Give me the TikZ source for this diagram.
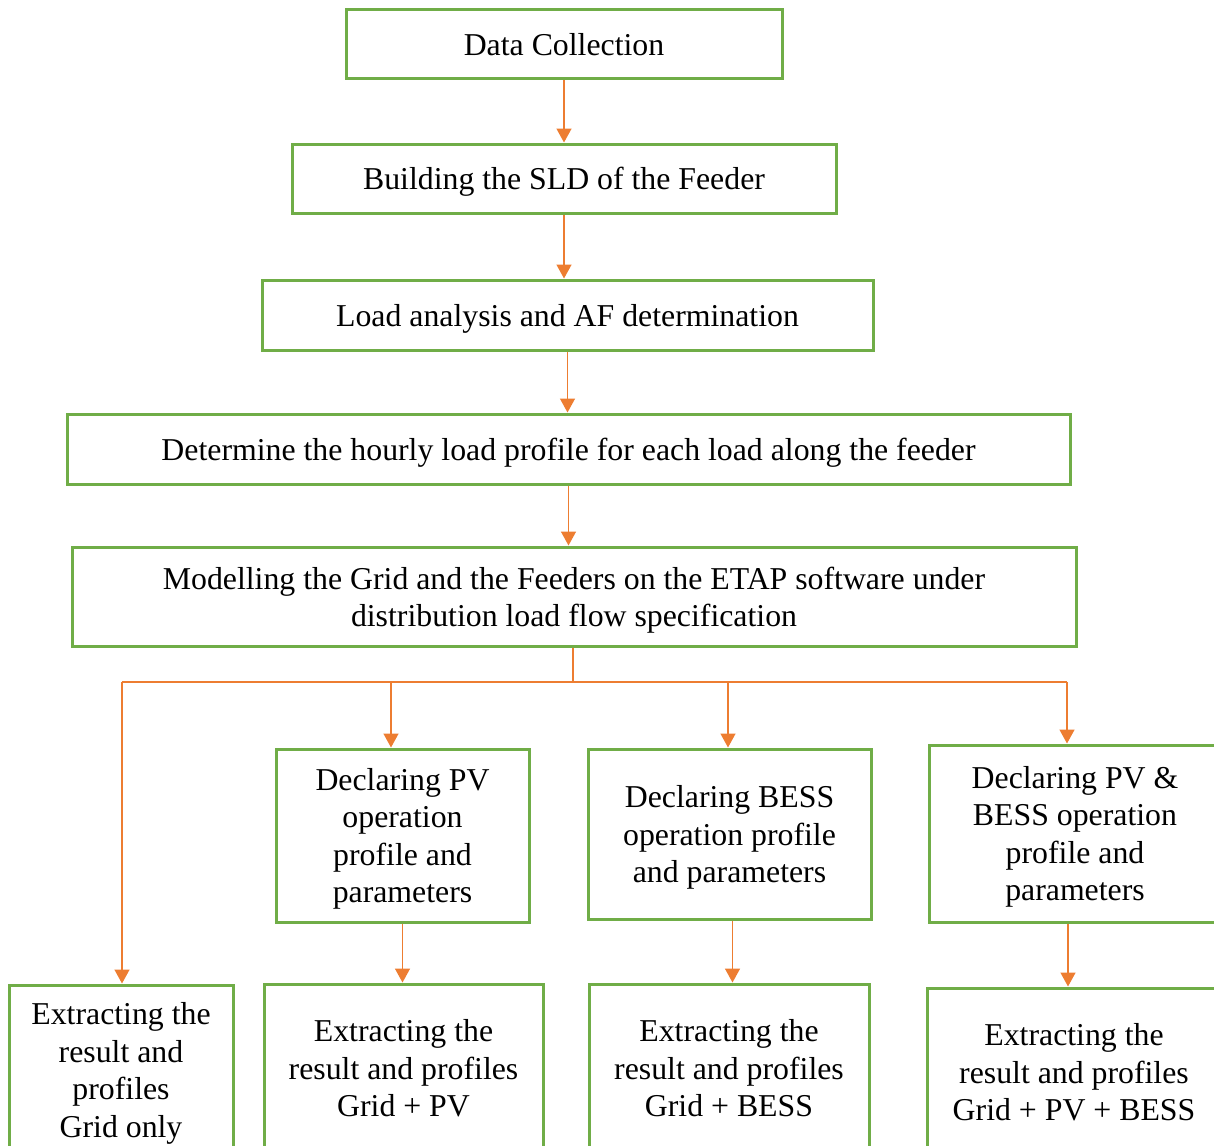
\documentclass[tikz,border=0pt]{standalone}
\usepackage{fontspec}
\setmainfont{Liberation Serif}
\usepackage{tikz}
\usetikzlibrary{arrows.meta}
\usetikzlibrary{shapes}

\definecolor{boxgreen}{HTML}{70AD47}
\definecolor{flowline}{HTML}{ED7D31}

\tikzset{
  stage/.style={draw=boxgreen, line width=1.5pt, rectangle, align=center,
    inner sep=0pt, text depth=0pt, font=\fontsize{15.9}{18.7}\selectfont},
  flow/.style={draw=flowline, line width=0.75pt,
    -{Triangle[width=7.5pt,length=7pt]}},
  bus/.style={draw=flowline, line width=0.75pt}
}

\begin{document}
\begin{tikzpicture}[x=0.5pt,y=-0.5pt]
  \path[use as bounding box, clip] (0,0) rectangle (1214,1145);

  % main chain
  \node[stage, minimum width=218pt, minimum height=34.5pt] (collect) at (564,44) {Data Collection};
  \node[stage, minimum width=272pt, minimum height=34.5pt] (sld) at (564,178.5) {Building the SLD of the Feeder};
  \node[stage, minimum width=305.5pt, minimum height=35pt] (loadaf) at (567.5,315) {Load analysis and AF determination};
  \node[stage, minimum width=501.5pt, minimum height=35pt] (hourly) at (568.5,449) {Determine the hourly load profile for each load along the feeder};
  \node[stage, minimum width=502pt, minimum height=49.5pt] (etap) at (574,596.5)
    {Modelling the Grid and the Feeders on the ETAP software under\\distribution load flow specification};

  % scenario declarations
  \node[stage, minimum width=126.5pt, minimum height=86.5pt] (declpv) at (402.5,835.5)
    {Declaring PV\\operation\\profile and\\parameters};
  \node[stage, minimum width=141.5pt, minimum height=85pt] (declbess) at (729.5,834)
    {Declaring BESS\\operation profile\\and parameters};
  \node[stage, minimum width=146pt, minimum height=88.5pt] (declboth) at (1075,833.5)
    {Declaring PV \&\\BESS operation\\profile and\\parameters};

  % results
  \node[stage, minimum width=112pt, minimum height=85pt] (resgrid) at (121,1070)
    {Extracting the\\result and\\profiles\\Grid only};
  \node[stage, minimum width=139.5pt, minimum height=84pt] (respv) at (403.5,1068)
    {Extracting the\\result and profiles\\Grid + PV};
  \node[stage, minimum width=140pt, minimum height=84pt] (resbess) at (729,1068)
    {Extracting the\\result and profiles\\Grid + BESS};
  \node[stage, minimum width=147pt, minimum height=84pt] (resboth) at (1074,1072)
    {Extracting the\\result and profiles\\Grid + PV + BESS};

  % arrows down the chain
  \draw[flow] (collect.south) -- (collect.south |- sld.north);
  \draw[flow] (sld.south) -- (sld.south |- loadaf.north);
  \draw[flow] (loadaf.south) -- (loadaf.south |- hourly.north);
  \draw[flow] (hourly.south) -- (hourly.south |- etap.north);

  % branching bus
  \coordinate (split) at (573,682);
  \coordinate (tapgrid) at (122,682);
  \coordinate (tappv) at (391,682);
  \coordinate (tapbess) at (728,682);
  \coordinate (tapboth) at (1067,682);
  \draw[bus] (split |- etap.south) -- (split);
  \draw[bus] (tapgrid) -- (tapboth);
  \draw[flow] (tapgrid) -- (tapgrid |- resgrid.north);
  \draw[flow] (tappv) -- (tappv |- declpv.north);
  \draw[flow] (tapbess) -- (tapbess |- declbess.north);
  \draw[flow] (tapboth) -- (tapboth |- declboth.north);

  % declarations to results
  \draw[flow] (declpv.south) -- (declpv.south |- respv.north);
  \draw[flow] ([xshift=1.5pt]declbess.south) -- ([xshift=1.5pt]declbess.south |- resbess.north);
  \draw[flow] ([xshift=-3.5pt]declboth.south) -- ([xshift=-3.5pt]declboth.south |- resboth.north);
\end{tikzpicture}
\end{document}
